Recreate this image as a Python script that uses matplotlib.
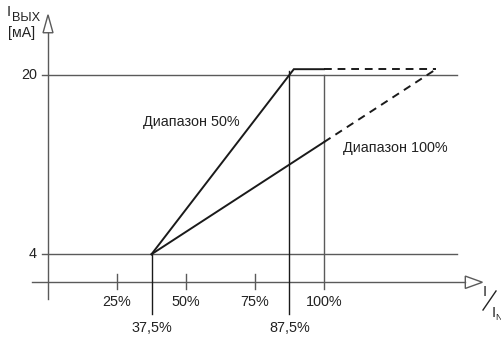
import matplotlib
matplotlib.use("Agg")
import matplotlib.pyplot as plt
from matplotlib.patches import Polygon

plt.rcParams['font.family'] = ['Liberation Sans', 'DejaVu Sans']

# Characteristic data (percent of nominal input, output current in mA)
start_pct = 37.5
span_50 = 50.0
span_100 = 100.0
i_min = 4.0
i_max = 20.0
i_sat = 20.5
x_ticks = [25, 50, 75, 100]
x_tick_labels = ['25%', '50%', '75%', '100%']
x_marks = [37.5, 87.5]
x_mark_labels = ['37,5%', '87,5%']
y_levels = [4, 20]
y_level_labels = ['4', '20']
range_labels = ['Диапазон 50%', 'Диапазон 100%']

FS = 10.4
FS_SUB = 9.2

fig = plt.figure(figsize=(5.02, 3.38), dpi=100)
ax = fig.add_axes([0, 0, 1, 1])
ax.set_xlim(-17.4, 164.5)
ax.set_ylim(-3.47, 26.67)
ax.axis('off')

dark = '#1a1a1a'
gray = '#5a5a5a'
txt = '#222222'
axis_y = 1.5

# axes
ax.plot([-5.8, 151.2], [axis_y, axis_y], color=gray, lw=1.0)
ax.plot([0, 0], [0.0, 23.75], color=gray, lw=1.0)
ax.add_patch(Polygon([[151.2, axis_y + 0.55], [157.4, axis_y], [151.2, axis_y - 0.55]],
                     closed=True, facecolor='white', edgecolor=gray, lw=1.0))
ax.add_patch(Polygon([[-1.8, 23.75], [0, 25.35], [1.8, 23.75]],
                     closed=True, facecolor='white', edgecolor=gray, lw=1.0))

# horizontal levels
for lv, lab in zip(y_levels, y_level_labels):
    ax.plot([-2.3, 148.2], [lv, lv], color=gray, lw=1.0)
    ax.text(-4.0, lv, lab, ha='right', va='center', fontsize=FS, color=txt)

# ticks on the x axis
for xt, lab in zip(x_ticks, x_tick_labels):
    top = i_max if xt == 100 else axis_y + 0.7
    ax.plot([xt, xt], [axis_y - 0.6, top], color=gray, lw=1.0)
    ax.text(xt, axis_y - 1.75, lab, ha='center', va='center', fontsize=FS, color=txt)

# start / end marks
ax.plot([x_marks[0], x_marks[0]], [i_min, -1.33], color=dark, lw=1.0)
ax.plot([x_marks[1], x_marks[1]], [i_max + 0.3, -1.33], color=dark, lw=1.0)
for xm, lab in zip(x_marks, x_mark_labels):
    ax.text(xm, -2.6, lab, ha='center', va='center', fontsize=FS, color=txt)

# 50 % range
slope50 = (i_max - i_min) / span_50
x_sat50 = start_pct + (i_sat - i_min) / slope50
ax.plot([start_pct, x_sat50, 100], [i_min, i_sat, i_sat], color=dark, lw=1.4,
        solid_joinstyle='miter')

# 100 % range
slope100 = (i_max - i_min) / span_100
y100 = i_min + slope100 * (100 - start_pct)
x_sat100 = start_pct + (i_sat - i_min) / slope100
ax.plot([start_pct, 100], [i_min, y100], color=dark, lw=1.4)

# continuation beyond 100 %
ax.plot([100, x_sat100], [i_sat, i_sat], color=dark, lw=1.4, dashes=(4, 3))
ax.plot([100, x_sat100], [y100, i_sat], color=dark, lw=1.4, dashes=(4, 3))

ax.text(34.5, 15.75, range_labels[0], ha='left', va='center', fontsize=FS, color=txt)
ax.text(106.8, 13.5, range_labels[1], ha='left', va='center', fontsize=FS, color=txt)

# axis names
fig.text(7 / 502, 1 - 12.5 / 338, 'I', ha='left', va='center', fontsize=FS, color=txt)
fig.text(12 / 502, 1 - 18 / 338, 'ВЫХ', ha='left', va='center', fontsize=FS_SUB, color=txt)
fig.text(8 / 502, 1 - 33 / 338, '[мА]', ha='left', va='center', fontsize=10.2, color=txt)

fig.text(483 / 502, 1 - 292 / 338, 'I', ha='left', va='center', fontsize=FS, color=txt)
fig.add_artist(plt.Line2D([483 / 502, 496 / 502], [1 - 310 / 338, 1 - 291 / 338],
                          color=txt, lw=1.0, transform=fig.transFigure))
fig.text(492 / 502, 1 - 313 / 338, 'I', ha='left', va='center', fontsize=FS, color=txt)
fig.text(495.5 / 502, 1 - 318 / 338, 'N', ha='left', va='center', fontsize=6.5, color=txt)

fig.savefig('out.png', dpi=100, facecolor='white')
